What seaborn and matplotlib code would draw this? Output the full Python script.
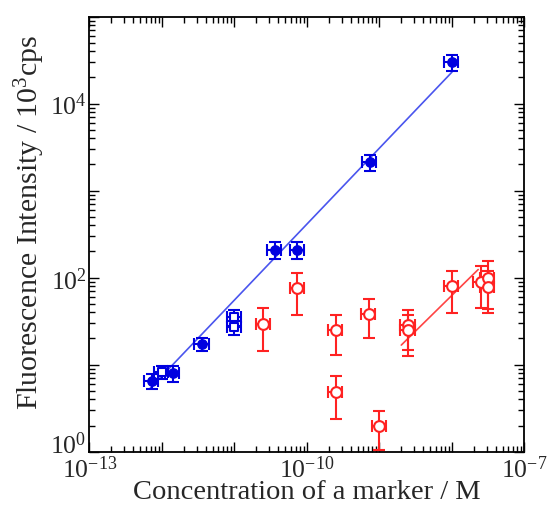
import matplotlib
matplotlib.use("Agg")
import matplotlib.pyplot as plt
import matplotlib.ticker as mticker
import matplotlib.transforms as mtransforms
import seaborn as sns
import numpy as np

# ---- data ----
blue_filled_x = [7.2e-13, 1.4e-12, 3.6e-12, 3.6e-11, 7.4e-11, 7.4e-10, 1.0e-8]
blue_filled_y = [6.5, 8.0, 17.3, 210, 210, 2150, 30000]
blue_filled_yerr = [1.3, 1.6, 3.0, 45, 45, 450, 6500]
blue_filled_xerr = [1.6e-13, 3.1e-13, 8.0e-13, 8.0e-12, 1.6e-11, 1.6e-10, 2.2e-9]

blue_open_x = [1.0e-12, 1.0e-11, 1.0e-11]
blue_open_y = [8.2, 35, 26.9]
blue_open_yerr = [1.4, 7, 5]
blue_open_xerr = [2.2e-13, 2.2e-12, 2.2e-12]

red_x = [2.5e-11, 7.4e-11, 2.5e-10, 2.5e-10, 7.2e-10, 1.0e-9, 2.5e-9, 2.5e-9, 1.0e-8, 2.5e-8, 3.1e-8, 3.1e-8]
red_y = [29.4, 75.5, 25, 4.9, 38.3, 2.0, 28.6, 25, 79.6, 90, 99, 78.8]
red_yerr = [15, 38, 12, 2.5, 18, 0.95, 14, 12.5, 40, 45, 55, 40]
red_xerr = [5.5e-12, 1.6e-11, 5.5e-11, 5.5e-11, 1.6e-10, 2.2e-10, 5.5e-10, 5.5e-10, 2.2e-9, 5.5e-9, 6.8e-9, 6.8e-9]

blue_fit_x = [6.8e-13, 1.0e-8]
blue_fit_y = [5.3, 23000]
red_fit_x = [2.0e-9, 2.3e-8]
red_fit_y = [16.8, 124]

x_label_exps = [-13, -10, -7]
y_label_exps = [0, 2, 4]

# ---- style ----
sns.set_theme(style="ticks")
plt.rcParams['font.family'] = ['Liberation Serif', 'DejaVu Serif']
plt.rcParams['mathtext.fontset'] = 'custom'
plt.rcParams['mathtext.rm'] = 'Liberation Serif'
plt.rcParams['mathtext.it'] = 'Liberation Serif:italic'
plt.rcParams['mathtext.bf'] = 'Liberation Serif:bold'

BLUE = "#0000e0"
BLUE_LINE = "#4a55ee"
RED = "#ff2222"

fig = plt.figure(figsize=(5.49, 5.06), dpi=100)
ax = fig.add_axes([0.163, 0.1053, 0.7923, 0.860])

# fit lines
sns.lineplot(x=blue_fit_x, y=blue_fit_y, ax=ax, color=BLUE_LINE, linewidth=1.2, zorder=2)
sns.lineplot(x=red_fit_x, y=red_fit_y, ax=ax, color="#ff4444", linewidth=1.2, zorder=2)

ekw = dict(fmt='none', elinewidth=1.5, capsize=4.5, capthick=1.5, zorder=3)
ax.errorbar(blue_filled_x, blue_filled_y, yerr=blue_filled_yerr, xerr=blue_filled_xerr, ecolor=BLUE, **ekw)
ax.errorbar(blue_open_x, blue_open_y, yerr=blue_open_yerr, xerr=blue_open_xerr, ecolor=BLUE, **ekw)
ax.errorbar(red_x, red_y, yerr=red_yerr, xerr=red_xerr, ecolor=RED, **ekw)

sns.scatterplot(x=blue_filled_x, y=blue_filled_y, ax=ax, marker='o', s=45,
                color=BLUE, edgecolor=BLUE, linewidth=1.0, zorder=4)
sns.scatterplot(x=blue_open_x, y=blue_open_y, ax=ax, marker='s', s=40,
                facecolor='white', edgecolor=BLUE, linewidth=1.5, zorder=4)
sns.scatterplot(x=red_x, y=red_y, ax=ax, marker='o', s=60,
                facecolor='white', edgecolor=RED, linewidth=1.5, zorder=4)

ax.set_xscale('log')
ax.set_yscale('log')
ax.set_xlim(1e-13, 1e-7)
ax.set_ylim(1, 1e5)

ax.xaxis.set_major_locator(mticker.LogLocator(base=10, numticks=20))
ax.xaxis.set_minor_locator(mticker.LogLocator(base=10, subs=np.arange(2, 10), numticks=20))
ax.yaxis.set_major_locator(mticker.LogLocator(base=10, numticks=20))
ax.yaxis.set_minor_locator(mticker.LogLocator(base=10, subs=np.arange(2, 10), numticks=20))

def make_fmt(exps):
    def f(v, pos):
        e = int(round(np.log10(v)))
        if e in exps:
            return r'$\mathregular{10^{%d}}$' % e
        return ''
    return f

ax.xaxis.set_major_formatter(mticker.FuncFormatter(make_fmt(x_label_exps)))
ax.yaxis.set_major_formatter(mticker.FuncFormatter(make_fmt(y_label_exps)))
ax.xaxis.set_minor_formatter(mticker.NullFormatter())
ax.yaxis.set_minor_formatter(mticker.NullFormatter())

ax.tick_params(which='both', direction='in', top=True, right=True, color='black')
ax.tick_params(which='major', length=7, width=1.0, labelsize=18.5)
ax.tick_params(axis='x', which='major', pad=2.5)
ax.tick_params(axis='y', which='major', pad=2)
ax.tick_params(which='minor', length=4, width=1.0)
for s in ax.spines.values():
    s.set_visible(True)
    s.set_color('black')
    s.set_linewidth(1.3)

ax.set_xlabel('Concentration of a marker / M', fontsize=20.5)
ax.xaxis.label.set_va('baseline')
ax.xaxis.set_label_coords(0.5, -0.107)
ax.set_ylabel(r'Fluorescence Intensity / 10$^\mathregular{3}$cps', fontsize=21.5)
ax.yaxis.set_label_coords(-0.098, 0.53)

# lift the bottom y tick label (10^0) like in the reference
fig.canvas.draw()
shift = mtransforms.ScaledTranslation(0, 10 / 100, fig.dpi_scale_trans)
for t in ax.yaxis.get_majorticklabels():
    if t.get_text() and '{0}' in t.get_text():
        t.set_transform(t.get_transform() + shift)

fig.savefig('out.png', dpi=100)
